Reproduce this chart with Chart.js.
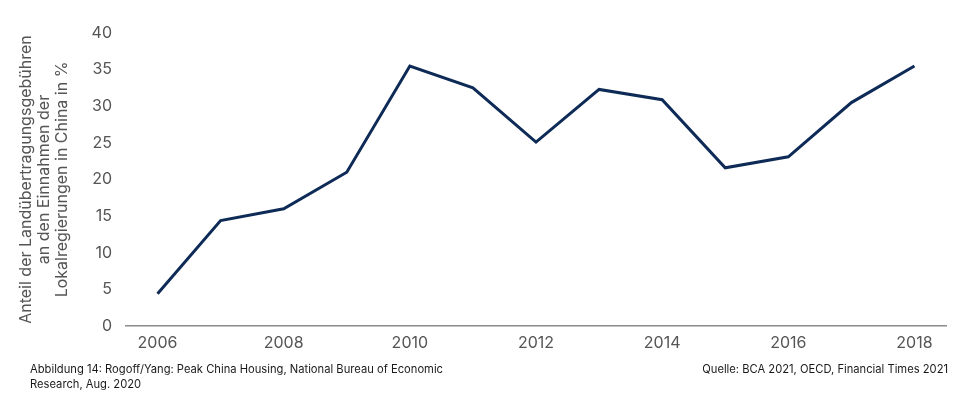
<!DOCTYPE html>
<html>
<head>
<meta charset="utf-8">
<script src="https://cdn.jsdelivr.net/npm/chart.js@4"></script>
<style>
  body { margin: 0; background: #fff; }
  #wrap { position: relative; width: 963px; height: 398px; }
  .note { position: absolute; font-family: Inter, "Liberation Sans", sans-serif; font-size: 11.2px; color: #1a1a1a; line-height: 15px; }
</style>
</head>
<body>
<div id="wrap">
  <canvas id="chart" width="963" height="398"></canvas>
  <div class="note" style="left:30px; top:362px;">Abbildung 14: Rogoff/Yang: Peak China Housing, National Bureau of Economic<br>Research, Aug. 2020</div>
  <div class="note" style="right:15px; top:362px; text-align:right;">Quelle: BCA 2021, OECD, Financial Times 2021</div>
</div>
<script>
//-------------------- DATA -------------------
const years = ['2006', '2007', '2008', '2009', '2010', '2011', '2012', '2013', '2014', '2015', '2016', '2017', '2018'];
const shares = [4.4, 14.4, 16.0, 21.0, 35.5, 32.5, 25.1, 32.3, 30.9, 21.6, 23.1, 30.5, 35.5];
const yTitle = ['Anteil der Landübertragungsgebühren', 'an den Einnahmen der', 'Lokalregierungen in China in %'];

const grey = '#555';
const font = 'Inter, "Liberation Sans", sans-serif';

//-------------------- CONFIG -------------------
const config = {
    type: 'line',
    data: {
        labels: years,
        datasets: [{
            data: shares,
            borderColor: '#0d2b56',
            borderWidth: 3,
            pointRadius: 0,
            tension: 0,
            fill: false
        }]
    },
    options: {
        responsive: false,
        animation: false,
        layout: { padding: { top: 33, right: 17, bottom: 42, left: 0 } },
        plugins: { legend: { display: false }, tooltip: { enabled: false } },
        scales: {
            x: {
                offset: true,
                grid: { display: false },
                border: { display: true, color: '#8a8a8a', width: 1.5 },
                ticks: {
                    color: grey,
                    font: { family: font, size: 16 },
                    autoSkip: false,
                    maxRotation: 0,
                    padding: 0,
                    callback: function (v, i) { return i % 2 === 0 ? years[i] : ''; }
                },
                afterFit: function (s) { s.height = 30; }
            },
            y: {
                min: 0,
                max: 40,
                grid: { display: false },
                border: { display: false },
                ticks: { stepSize: 5, color: grey, font: { family: font, size: 16 }, padding: 6 },
                title: {
                    display: true,
                    text: yTitle,
                    color: grey,
                    font: { family: font, size: 16, lineHeight: 1.12 },
                    padding: { top: 17, bottom: 0 }
                },
                afterFit: function (s) { s.width = 126; }
            }
        }
    }
};

//-------------------- RENDER -------------------
const myChart = new Chart(document.getElementById('chart'), config);
</script>
</body>
</html>
